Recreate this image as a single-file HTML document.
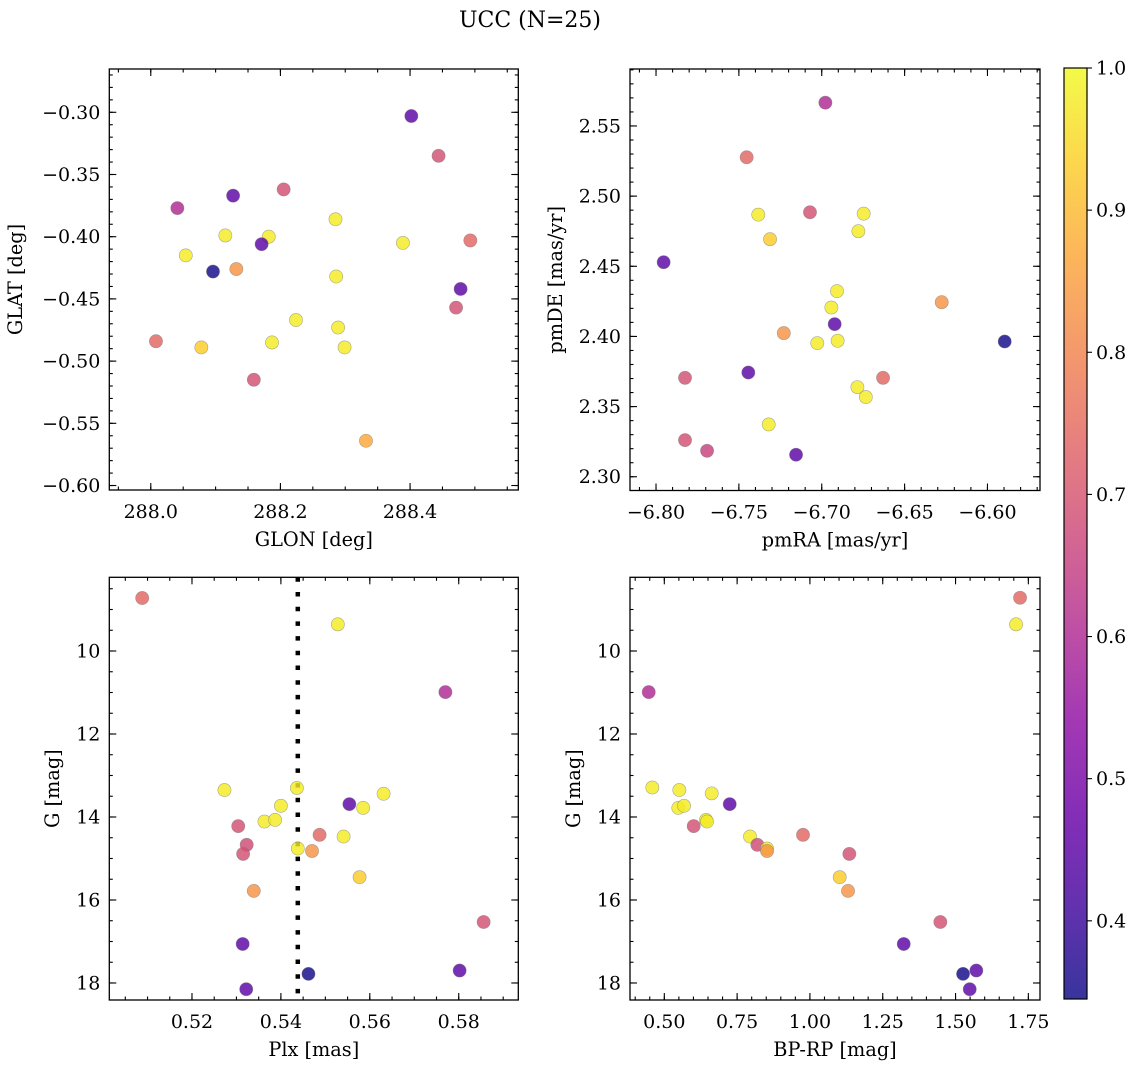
<!DOCTYPE html>
<html><head><meta charset="utf-8">
<style>
html,body{margin:0;padding:0;background:#fff;}
svg{display:block;font-family:"DejaVu Serif","Liberation Serif",serif;}
</style></head>
<body>
<svg id="fig" width="1136" height="1067" viewBox="0 0 1136 1067" xmlns="http://www.w3.org/2000/svg">
<rect width="1136" height="1067" fill="#fff"/>
<text x="530" y="27" font-size="22" text-anchor="middle">UCC (N=25)</text>
</svg>
<script>
// ---- data ----
const p1Glon = [288.402,288.444,288.041,288.127,288.205,288.285,288.115,288.182,288.171,288.389,288.493,288.054,288.096,288.132,288.286,288.478,288.471,288.224,288.289,288.008,288.078,288.187,288.299,288.159,288.332];
const p1Glat = [-0.303,-0.335,-0.377,-0.367,-0.362,-0.386,-0.399,-0.400,-0.406,-0.405,-0.403,-0.415,-0.428,-0.426,-0.432,-0.442,-0.457,-0.467,-0.473,-0.484,-0.489,-0.485,-0.489,-0.515,-0.564];
const p1Prob = [0.45,0.69,0.60,0.45,0.69,0.98,0.98,0.98,0.45,0.98,0.74,0.98,0.35,0.83,0.98,0.45,0.69,0.98,0.98,0.74,0.93,0.98,0.98,0.69,0.87];

const p2PmRA = [-6.6978,-6.7453,-6.7071,-6.7383,-6.6747,-6.7312,-6.6779,-6.7954,-6.6908,-6.6942,-6.6276,-6.6922,-6.7229,-6.7027,-6.6904,-6.5896,-6.7443,-6.7825,-6.6630,-6.6785,-6.6734,-6.7320,-6.7825,-6.7692,-6.7155];
const p2PmDE = [2.5666,2.5277,2.4885,2.4868,2.4875,2.4693,2.4750,2.4529,2.4323,2.4206,2.4244,2.4088,2.4024,2.3952,2.3969,2.3964,2.3743,2.3705,2.3705,2.3639,2.3568,2.3373,2.3261,2.3185,2.3157];
const p2Prob = [0.60,0.74,0.69,0.98,0.98,0.93,0.98,0.45,0.98,0.98,0.83,0.45,0.83,0.98,0.98,0.35,0.45,0.69,0.74,0.98,0.98,0.98,0.69,0.66,0.45];

const p3Plx = [0.5088,0.5528,0.5770,0.5273,0.5436,0.5631,0.5554,0.5585,0.5400,0.5363,0.5387,0.5304,0.5487,0.5541,0.5323,0.5315,0.5438,0.5470,0.5577,0.5339,0.5856,0.5314,0.5462,0.5802,0.5322];
const p3G = [8.723,9.357,10.99,13.35,13.30,13.44,13.69,13.78,13.73,14.11,14.07,14.22,14.43,14.47,14.67,14.89,14.76,14.82,15.45,15.78,16.53,17.06,17.78,17.70,18.15];
const p3Prob = [0.74,0.98,0.60,0.98,0.98,0.98,0.45,0.98,0.98,0.98,0.98,0.69,0.74,0.98,0.68,0.69,0.98,0.83,0.93,0.83,0.69,0.45,0.35,0.45,0.45];

const p4Bprp = [1.7215,1.7078,0.4465,0.4588,0.5515,0.6628,0.7246,0.5481,0.5677,0.6432,0.6466,0.6009,0.9763,0.7943,0.8194,1.1353,0.8527,0.8527,1.1023,1.1308,1.4478,1.3221,1.5258,1.5714,1.5487];
const p4G = [8.716,9.357,10.99,13.29,13.35,13.43,13.69,13.78,13.73,14.07,14.11,14.22,14.43,14.47,14.67,14.89,14.76,14.82,15.45,15.78,16.53,17.06,17.78,17.70,18.15];
const p4Prob = [0.74,0.98,0.60,0.98,0.98,0.98,0.45,0.98,0.98,0.98,0.98,0.69,0.74,0.98,0.68,0.69,0.98,0.83,0.93,0.83,0.69,0.45,0.35,0.45,0.45];

const plxLine = [0.5438];

const p1XTicks = [288.0,288.2,288.4];
const p1YTicks = [-0.30,-0.35,-0.40,-0.45,-0.50,-0.55,-0.60];
const p2XTicks = [-6.80,-6.75,-6.70,-6.65,-6.60];
const p2YTicks = [2.30,2.35,2.40,2.45,2.50,2.55];
const p3XTicks = [0.52,0.54,0.56,0.58];
const gTicks = [10,12,14,16,18];
const p4XTicks = [0.50,0.75,1.00,1.25,1.50,1.75];
const cbTicks = [0.4,0.5,0.6,0.7,0.8,0.9,1.0];

const VMIN = 0.345, VMAX = 1.0;
// ---- helpers ----
const NS = "http://www.w3.org/2000/svg";
const svg = document.getElementById('fig');
function mk(tag, attrs, parent){const e=document.createElementNS(NS,tag);for(const k in attrs)e.setAttribute(k,attrs[k]);(parent||svg).appendChild(e);return e;}
const PL=[[13,8,135],[65,4,157],[106,0,168],[143,13,164],[177,42,144],[204,71,120],[225,100,98],[242,132,75],[252,166,54],[252,206,37],[240,249,33]];
function plasma(t){t=Math.max(0,Math.min(1,t));const f=t*10,i=Math.min(9,Math.floor(f)),u=f-i;const a=PL[i],b=PL[i+1];return `rgb(${Math.round(a[0]+(b[0]-a[0])*u)},${Math.round(a[1]+(b[1]-a[1])*u)},${Math.round(a[2]+(b[2]-a[2])*u)})`;}
function fmt(v,d){const s=Math.abs(v).toFixed(d);return (v<0?"\u2212":"")+s;}
const TF=19, LF=19.3;

function panel(cfg){
  const g=mk('g',{});
  
  
  const {x0,y0,w,h,xlim,ylim,yinv}=cfg;
  const sx=v=>x0+(v-xlim[0])/(xlim[1]-xlim[0])*w;
  const sy=v=>yinv? y0+(v-ylim[0])/(ylim[1]-ylim[0])*h : y0+h-(v-ylim[0])/(ylim[1]-ylim[0])*h;
  const tk=mk('g',{stroke:'#000','stroke-width':1.1},g);
  function ticksX(step,len){const s=Math.ceil(xlim[0]/step-1e-6);for(let k=s;k*step<=xlim[1]+1e-9;k++){const X=sx(k*step);mk('line',{x1:X,x2:X,y1:y0+h,y2:y0+h-len},tk);mk('line',{x1:X,x2:X,y1:y0,y2:y0+len},tk);}}
  function ticksY(step,len){const s=Math.ceil(ylim[0]/step-1e-6);for(let k=s;k*step<=ylim[1]+1e-9;k++){const Y=sy(k*step);mk('line',{x1:x0,x2:x0+len,y1:Y,y2:Y},tk);mk('line',{x1:x0+w,x2:x0+w-len,y1:Y,y2:Y},tk);}}
  ticksX(cfg.xminor,3.5);ticksY(cfg.yminor,3.5);
  cfg.xticks.forEach(v=>{const X=sx(v);mk('line',{x1:X,x2:X,y1:y0+h,y2:y0+h-7},tk);mk('line',{x1:X,x2:X,y1:y0,y2:y0+7},tk);
    const t=mk('text',{x:X,y:y0+h+28,'font-size':TF,'text-anchor':'middle'},g);t.textContent=fmt(v,cfg.xdec);
    
    });
  cfg.yticks.forEach(v=>{const Y=sy(v);mk('line',{x1:x0,x2:x0+7,y1:Y,y2:Y},tk);mk('line',{x1:x0+w,x2:x0+w-7,y1:Y,y2:Y},tk);
    const t=mk('text',{x:x0-9,y:Y+6.5,'font-size':TF,'text-anchor':'end'},g);t.textContent=fmt(v,cfg.ydec);
    
    });
  if(cfg.vline){cfg.vline.forEach(v=>{const l=mk('line',{x1:sx(v),x2:sx(v),y1:y0,y2:y0+h,stroke:'#000','stroke-width':4.5,'stroke-dasharray':'4.5 10.2'},g);
    
    });}
  cfg.xs.forEach((xv,i)=>{
    const c=mk('circle',{cx:sx(xv),cy:sy(cfg.ys[i]),r:6.6,fill:plasma((cfg.c[i]-VMIN)/(VMAX-VMIN)),'fill-opacity':0.82,stroke:'#777','stroke-opacity':0.6,'stroke-width':0.6},g);
    
    
  });
  const fr=mk('rect',{x:x0,y:y0,width:w,height:h,fill:'none',stroke:'#000','stroke-width':1.3},g);
  
  
  const xl=mk('text',{x:x0+w/2,y:y0+h+56,'font-size':LF,'text-anchor':'middle'},g);xl.textContent=cfg.xlabel;
  
  
  const yl=mk('text',{x:0,y:0,'font-size':LF,'text-anchor':'middle',transform:`translate(${cfg.ylx},${y0+h/2}) rotate(-90)`},g);yl.textContent=cfg.ylabel;
  
  
}

panel({name:'glon-glat-panel',x0:109.3,y0:69,w:409,h:421,xlim:[287.936,288.567],ylim:[-0.6036,-0.2652],xticks:p1XTicks,yticks:p1YTicks,xdec:1,ydec:2,xminor:0.05,yminor:0.01,xs:p1Glon,ys:p1Glat,c:p1Prob,xlabel:'GLON [deg]',ylabel:'GLAT [deg]',ylx:22});
panel({name:'proper-motion-panel',x0:630,y0:69,w:410,h:421.5,xlim:[-6.8157,-6.5683],ylim:[2.2902,2.5906],xticks:p2XTicks,yticks:p2YTicks,xdec:2,ydec:2,xminor:0.01,yminor:0.01,xs:p2PmRA,ys:p2PmDE,c:p2Prob,xlabel:'pmRA [mas/yr]',ylabel:'pmDE [mas/yr]',ylx:562});
panel({name:'plx-g-panel',x0:109.3,y0:577.3,w:409,h:422.7,xlim:[0.5014,0.5934],ylim:[8.224,18.41],yinv:true,xticks:p3XTicks,yticks:gTicks,xdec:2,ydec:0,xminor:0.005,yminor:0.5,xs:p3Plx,ys:p3G,c:p3Prob,xlabel:'Plx [mas]',ylabel:'G [mag]',ylx:59,vline:plxLine});
panel({name:'cmd-panel',x0:630,y0:577.3,w:410,h:422.7,xlim:[0.3822,1.790],ylim:[8.224,18.41],yinv:true,xticks:p4XTicks,yticks:gTicks,xdec:2,ydec:0,xminor:0.05,yminor:0.5,xs:p4Bprp,ys:p4G,c:p4Prob,xlabel:'BP-RP [mag]',ylabel:'G [mag]',ylx:580});

// colorbar
(function(){
  const cx=1064,cy=68,cw=23,ch=931;
  const g=mk('g',{});
  
  
  const defs=mk('defs',{},g);
  const lg=mk('linearGradient',{id:'cbg',x1:0,y1:1,x2:0,y2:0},defs);
  for(let i=0;i<=20;i++){mk('stop',{offset:(i/20),'stop-color':plasma(i/20),'stop-opacity':0.82},lg);}
  mk('rect',{x:cx,y:cy,width:cw,height:ch,fill:'url(#cbg)'},g);
  const sy=v=>cy+ch-(v-VMIN)/(VMAX-VMIN)*ch;
  cbTicks.forEach(v=>{const Y=sy(v);mk('line',{x1:cx+cw,x2:cx+cw+5,y1:Y,y2:Y,stroke:'#000','stroke-width':1.1},g);
    const t=mk('text',{x:cx+cw+9,y:Y+6.5,'font-size':TF},g);t.textContent=v.toFixed(1);
    
    });
  mk('rect',{x:cx,y:cy,width:cw,height:ch,fill:'none',stroke:'#000','stroke-width':1.2},g);
})();
</script>
</body></html>
